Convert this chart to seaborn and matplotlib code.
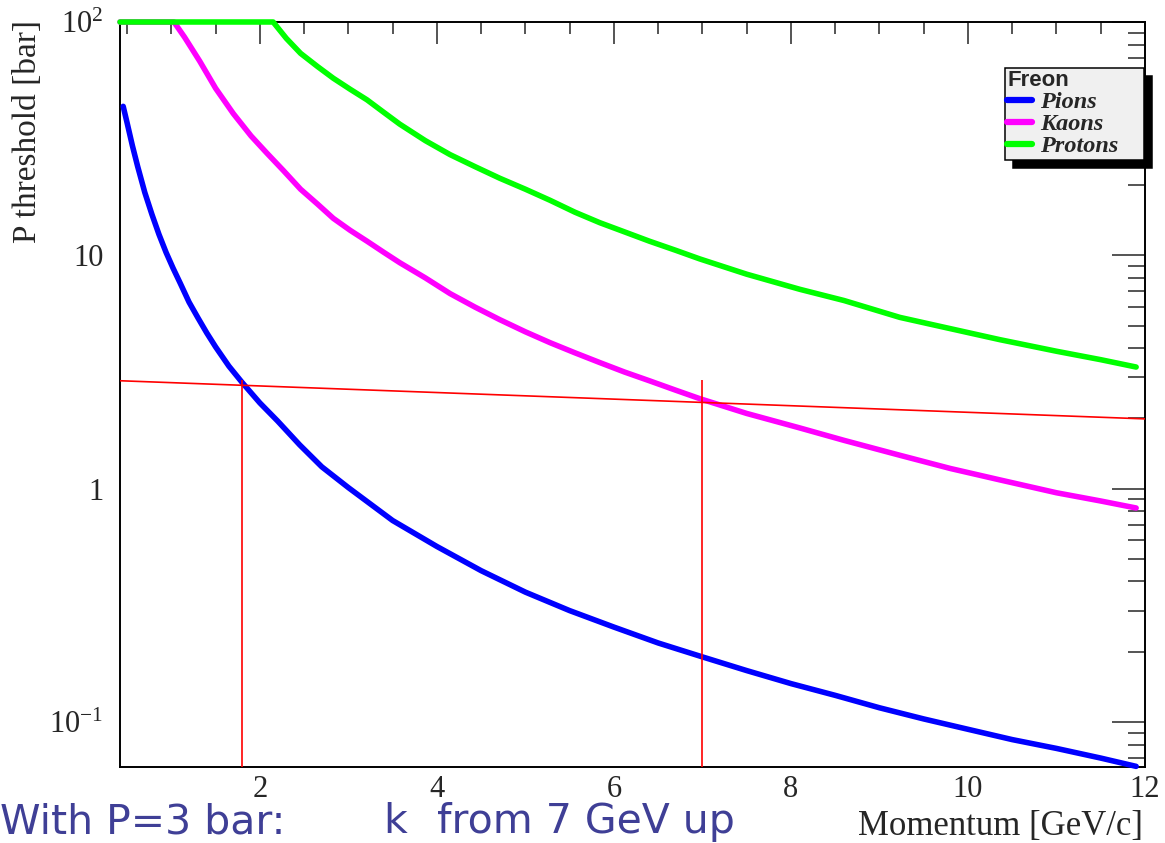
import matplotlib
matplotlib.use("Agg")
import matplotlib.pyplot as plt
from matplotlib.lines import Line2D
from matplotlib.ticker import MultipleLocator, LogLocator, FixedLocator, FixedFormatter, NullFormatter
import pandas as pd
import seaborn as sns

# Threshold pressure curves in Freon, momentum in GeV/c, pressure in bar
pion_p = [0.456, 0.50, 0.56, 0.62, 0.70, 0.78, 0.86, 0.94, 1.02, 1.10, 1.20,
          1.30, 1.40, 1.50, 1.65, 1.80, 2.00, 2.20, 2.45, 2.70, 3.00, 3.50,
          4.00, 4.50, 5.00, 5.50, 6.00, 6.50, 7.00, 7.50, 8.00, 8.50, 9.00,
          9.50, 10.0, 10.5, 11.0, 11.5, 11.9]
pion_thr = [43.5, 37, 29.5, 24, 18.6, 15.0, 12.3, 10.3, 8.8, 7.6, 6.3,
            5.4, 4.65, 4.05, 3.35, 2.85, 2.33, 1.95, 1.54, 1.24, 1.01, 0.73,
            0.565, 0.445, 0.36, 0.30, 0.255, 0.218, 0.19, 0.166, 0.146, 0.13, 0.115,
            0.103, 0.093, 0.084, 0.077, 0.070, 0.0645]

kaon_p = [0.42, 1.03, 1.15, 1.32, 1.50, 1.70, 1.90, 2.08, 2.27, 2.46, 2.65,
          2.83, 3.02, 3.21, 3.40, 3.58, 3.87, 4.15, 4.43, 4.71, 5.00, 5.28,
          5.56, 5.84, 6.12, 6.40, 6.70, 6.97, 7.50, 8.10, 8.60, 9.23, 9.80,
          10.36, 11.0, 11.5, 11.9]
kaon_thr = [100, 100, 86, 68, 52, 40.5, 32.5, 27.4, 23, 19.2, 16.6,
            14.4, 12.8, 11.5, 10.3, 9.3, 8.0, 6.85, 6.0, 5.3, 4.7, 4.22,
            3.82, 3.47, 3.16, 2.9, 2.64, 2.43, 2.10, 1.82, 1.61, 1.39, 1.22,
            1.09, 0.96, 0.885, 0.826]

proton_p = [0.42, 2.15, 2.30, 2.46, 2.65, 2.83, 3.02, 3.21, 3.40, 3.58, 3.87,
            4.15, 4.43, 4.71, 5.00, 5.28, 5.56, 5.84, 6.12, 6.40, 6.70, 6.97,
            7.50, 8.10, 8.60, 9.23, 9.80, 10.36, 11.0, 11.5, 11.9]
proton_thr = [100, 100, 85, 73.4, 64.5, 57.4, 51.5, 46.4, 41, 36.5, 31,
              27.0, 24, 21.4, 19.2, 17.2, 15.3, 13.8, 12.6, 11.5, 10.5, 9.65,
              8.3, 7.15, 6.4, 5.42, 4.85, 4.35, 3.88, 3.57, 3.32]

species = ["Pions", "Kaons", "Protons"]
species_colors = ["#0000ff", "#ff00ff", "#00ff00"]

# Working pressure line and the two crossing momenta
cut_p = [0.42, 12.0]
cut_thr = [2.90, 1.99]
cross_p = [1.8, 7.0]
cross_top = [2.93, 2.93]

y_tick_values = [0.1, 1, 10, 100]
y_tick_labels = [r"$10^{-1}$", "1", "10", r"$10^{2}$"]

sns.set_style("white")
plt.rcParams.update({
    "font.family": ["Liberation Serif", "DejaVu Serif"],
    "mathtext.fontset": "custom",
    "mathtext.rm": "Liberation Serif",
    "mathtext.it": "Liberation Serif:italic",
    "xtick.direction": "in",
    "ytick.direction": "in",
    "xtick.top": True,
    "ytick.right": True,
    "axes.edgecolor": "black",
    "axes.linewidth": 1.4,
})

fig = plt.figure(figsize=(11.65, 8.43), dpi=100)
W, H = 1165.0, 843.0
ax = fig.add_axes([120 / W, 1 - 767 / H, (1145 - 120) / W, (767 - 22) / H])
ax.set_yscale("log")

df = pd.concat([
    pd.DataFrame({"p": pion_p, "thr": pion_thr, "species": "Pions"}),
    pd.DataFrame({"p": kaon_p, "thr": kaon_thr, "species": "Kaons"}),
    pd.DataFrame({"p": proton_p, "thr": proton_thr, "species": "Protons"}),
], ignore_index=True)

sns.lineplot(data=df, x="p", y="thr", hue="species", hue_order=species,
             palette=dict(zip(species, species_colors)), linewidth=4.0,
             estimator=None, sort=False, legend=False, ax=ax)
for ln in ax.lines:
    ln.set_clip_on(False)
    ln.set_zorder(3)

ymin, ymax = 0.0641, 100
ax.plot(cut_p, cut_thr, color="#ff0000", lw=1.2, zorder=4)
ax.vlines(cross_p, ymin, cross_top, color="#ff0000", lw=1.2, zorder=4)

ax.set_xlim(0.42, 12.0)
ax.set_ylim(ymin, ymax)
ax.xaxis.set_major_locator(MultipleLocator(2))
ax.xaxis.set_minor_locator(MultipleLocator(0.5))
ax.yaxis.set_major_locator(FixedLocator(y_tick_values))
ax.yaxis.set_major_formatter(FixedFormatter(y_tick_labels))
ax.yaxis.set_minor_locator(LogLocator(base=10, subs=range(2, 10)))
ax.yaxis.set_minor_formatter(NullFormatter())

ax.tick_params(axis="x", which="major", length=16, width=1.1, pad=6, labelsize=22)
ax.tick_params(axis="x", which="minor", length=8.5, width=1.1)
ax.tick_params(axis="y", which="major", length=24, width=1.1, pad=12, labelsize=22)
ax.tick_params(axis="y", which="minor", length=12, width=1.1)
ax.set_xlabel("")
ax.set_ylabel("")

fig.text(28 / W, 1 - 20 / H, "P threshold [bar]", rotation=90, ha="center",
         va="top", fontsize=24)
fig.text(1143 / W, 1 - 835 / H, "Momentum [GeV/c]", ha="right",
         va="baseline", fontsize=25)

handles = [Line2D([], [], color=c, lw=4.5) for c in species_colors]
leg_x0 = (1005 - 120) / 1025
leg_w = (1144 - 1005) / 1025
leg_top = (767 - 68) / 745
leg = ax.legend(handles, species, loc="upper left",
                bbox_to_anchor=(leg_x0, leg_top - 0.13, leg_w, 0.13),
                mode="expand", borderaxespad=0,
                title="Freon", alignment="left",
                title_fontproperties={"family": "Liberation Sans",
                                      "weight": "bold", "size": 16},
                prop={"family": "Liberation Serif", "style": "italic",
                      "weight": "bold", "size": 17.5},
                frameon=True, fancybox=False, facecolor="#f0f0f0",
                edgecolor="black", framealpha=1,
                shadow={"ox": 5.5, "oy": -5.5, "facecolor": "black",
                        "edgecolor": "black", "alpha": 1},
                handlelength=1.0, handletextpad=0.35, labelspacing=0.0,
                borderpad=0.1)
leg.get_frame().set_linewidth(1.1)
leg.set_zorder(6)

note_color = "#3f3f96"
note_kw = dict(ha="left", va="bottom", fontsize=29.5, color=note_color,
               family="DejaVu Sans")
fig.text(0, 1 / H, "With P=3 bar:", **note_kw)
fig.text(383 / W, 1 / H, "k", **note_kw)
fig.text(437 / W, 1 / H, "from 7 GeV up", **note_kw)

fig.savefig("out.png", dpi=100)
